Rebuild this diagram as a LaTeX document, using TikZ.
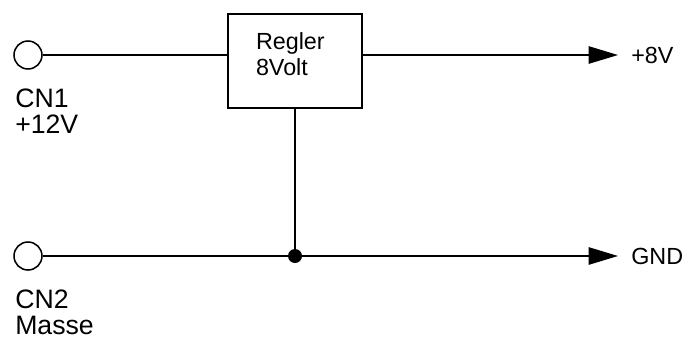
\documentclass[tikz,border=0pt]{standalone}
\usepackage{fontspec}
\setmainfont{Liberation Sans}
\usepackage{tikz}
\usetikzlibrary{arrows.meta}
\tikzstyle{terminal}=[circle,draw,line width=1.15pt,fill=white,minimum size=21pt,inner sep=0pt]
\tikzstyle{junction}=[circle,fill=black,minimum size=10.5pt,inner sep=0pt]
\tikzstyle{reglerbox}=[rectangle,draw,line width=1.15pt,minimum width=100.5pt,minimum height=70.5pt,inner sep=0pt,text width=58.5pt,align=left,font=\fontsize{17.5}{19.5}\selectfont]
\tikzstyle{wire} = [draw,line width=1.15pt]
\tikzstyle{signal} = [draw,line width=1.15pt,-{Triangle[length=22pt,width=13pt]}]
\tikzstyle{biglabel} = [anchor=north west,inner sep=0pt,align=left,font=\fontsize{20}{19.5}\selectfont]
\tikzstyle{smalllabel} = [anchor=west,inner sep=0pt,font=\fontsize{17.5}{19.5}\selectfont]

\begin{document}
\begin{tikzpicture}[x=0.75pt,y=-0.75pt]
    \useasboundingbox (0,0) rectangle (685,336);

    \foreach \x/\y/\name in {28/55/cn1, 28/256/cn2}
        \node[terminal] (\name) at (\x,\y) {};

    \node[reglerbox] (regler) at (295,61) {Regler\\8Volt\rule[-10pt]{0pt}{1pt}};
    \node[junction] (knoten) at (295,256) {};

    \coordinate (aus8) at (618,55);
    \coordinate (ausgnd) at (618,256);

    % leitungen
    \path[wire] (cn1) -- (cn1 -| regler.west);
    \path[wire] (regler) -- (knoten);
    \path[wire] (cn2) -- (knoten);
    \path[signal] (aus8 -| regler.east) -- (aus8);
    \path[signal] (knoten) -- (ausgnd);

    \node[biglabel] (lcn1) at (15,88.5) {CN1\\+12V};
    \node[biglabel] (lcn2) at (15,289.5) {CN2\\Masse};
    \node[smalllabel] (l8) at (631,55) {+8V};
    \node[smalllabel] (lgnd) at (631,256) {GND};
\end{tikzpicture}
\end{document}
